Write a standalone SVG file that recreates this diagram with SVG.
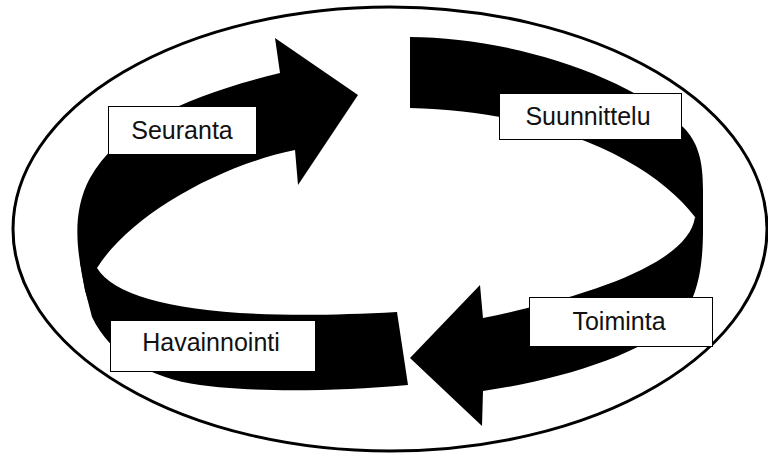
<svg xmlns="http://www.w3.org/2000/svg" width="768" height="455" viewBox="0 0 768 455">
<style>
.band{fill:#000;stroke:none}
.box{fill:#fff;stroke:#000;stroke-width:1}
.lbl{font-family:"Liberation Sans",Arial,sans-serif;font-size:25px;fill:#111;text-anchor:middle}
</style>
<rect x="0" y="0" width="768" height="455" fill="#fff"/>
<ellipse id="frame" cx="390" cy="229" rx="377" ry="222" fill="#fff" stroke="#000" stroke-width="3"/>
<g id="connectors">
<path class="band" d="M97,268 C120,305 220,322 397,312 L408,385 C330,392 250,392 200,385 C150,378 110,355 92,317 L85,290 L80,262 Z"/>
<path class="band" d="M295,150 C220,165 130,215 97,268 L88,300 L85,290 C78,255 70,215 90,178 C120,125 190,95 280,73 L275,38 L358,95 L298,185 Z"/>
<path class="band" d="M410,37 C500,37 620,70 683,127 C698,142 703,160 703,190 L703,235 L695,217 C655,165 560,112 410,108 Z"/>
<path class="band" d="M695,217 C690,255 620,290 483,318 L480,285 L410,358 L482,426 L483,391 C560,380 640,355 680,320 C695,300 703,275 703,230 Z"/>
</g>
<g id="seuranta">
<rect class="box" x="108.5" y="106.5" width="148" height="48"/>
<text class="lbl" x="182" y="139">Seuranta</text>
</g>
<g id="suunnittelu">
<rect class="box" x="499.5" y="93.5" width="182" height="46"/>
<text class="lbl" x="588" y="125">Suunnittelu</text>
</g>
<g id="toiminta">
<rect class="box" x="529.5" y="297.5" width="183" height="49"/>
<text class="lbl" x="619" y="330">Toiminta</text>
</g>
<g id="havainnointi">
<rect class="box" x="110.5" y="320.5" width="205" height="51"/>
<text class="lbl" x="211" y="351">Havainnointi</text>
</g>
</svg>
